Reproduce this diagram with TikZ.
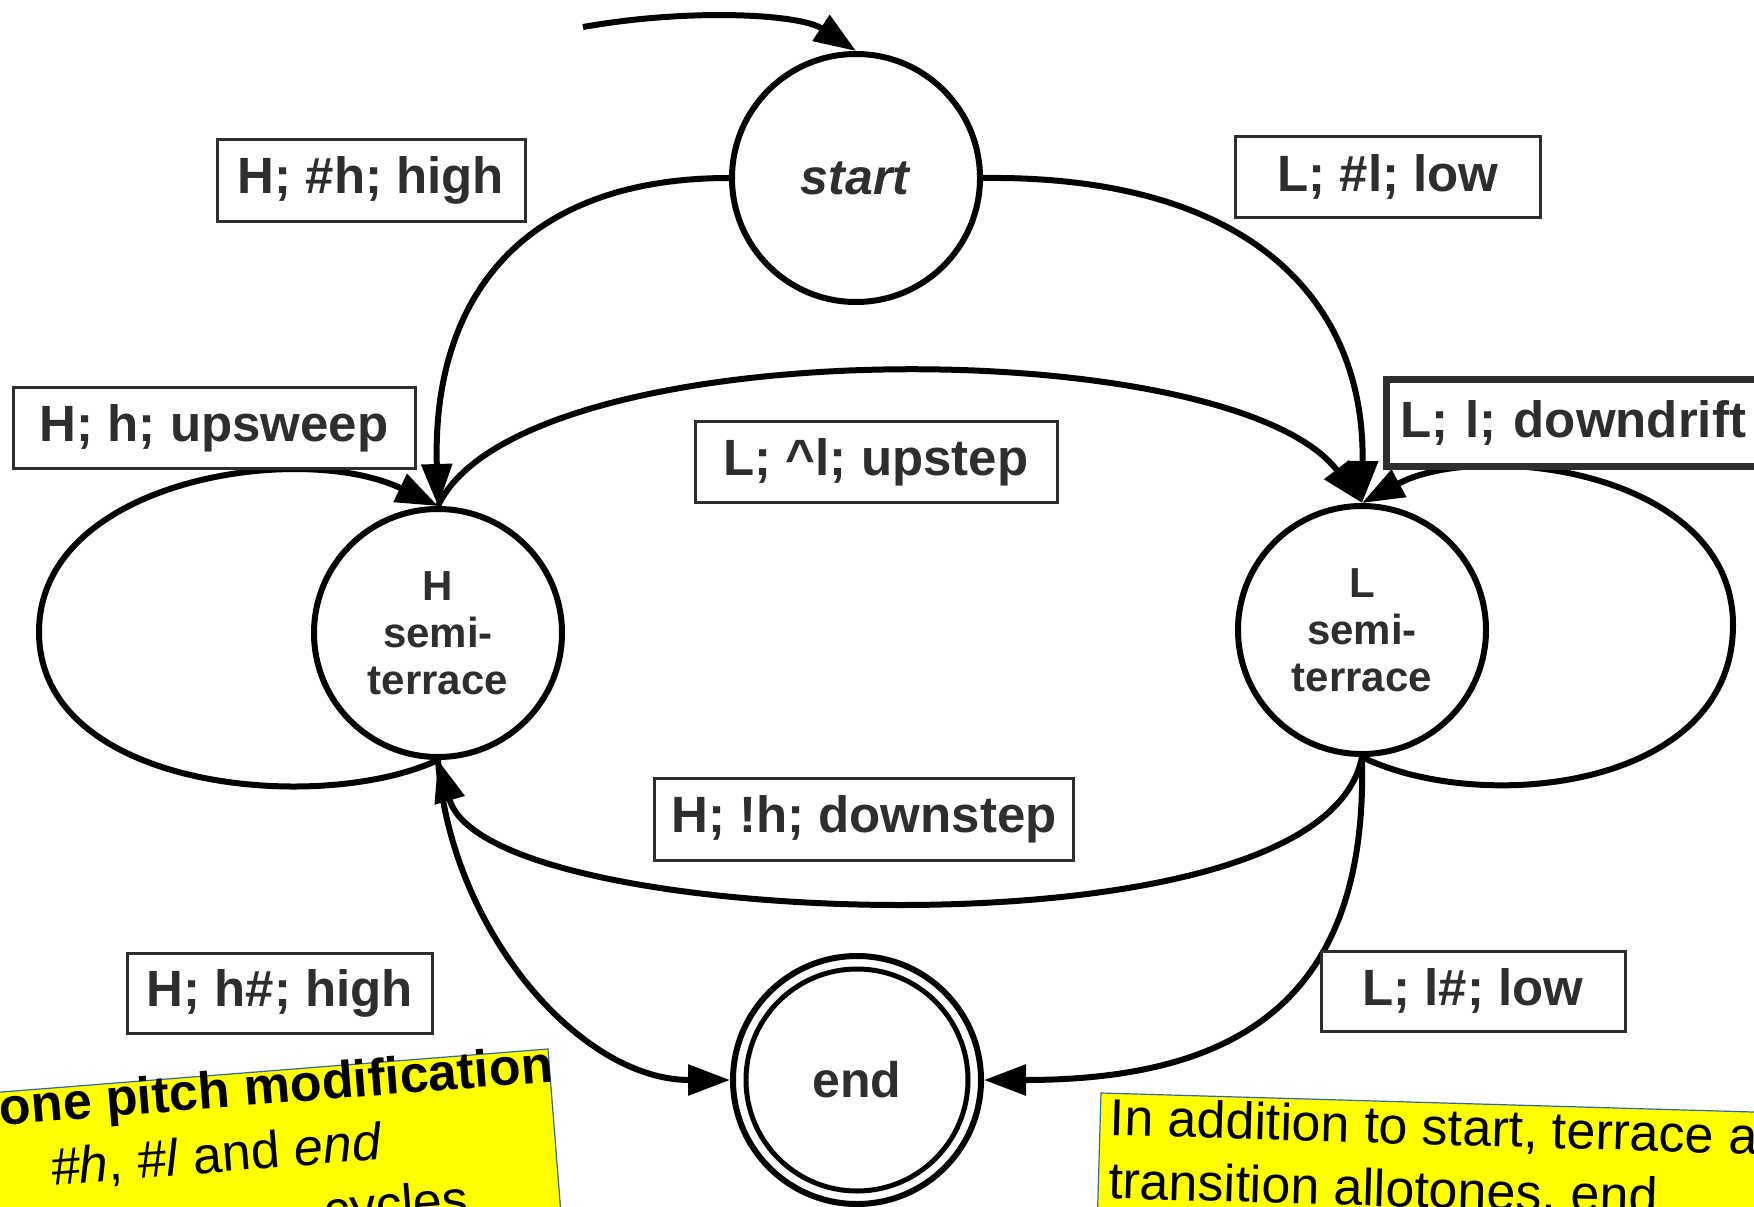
\documentclass[tikz,border=0pt]{standalone}
\usepackage{fontspec}
\setmainfont{Liberation Sans}
\usetikzlibrary{arrows.meta}
\definecolor{ink}{HTML}{2E2E2E}
\definecolor{note}{HTML}{FFFF00}
\definecolor{noteline}{HTML}{3465A4}

\begin{document}
\begin{tikzpicture}[x=1pt,y=-1pt,
  state/.style={circle, draw=black, line width=6pt, minimum size=248pt, inner sep=0pt,
    font=\fontsize{50}{56}\selectfont\bfseries, text=ink},
  semi/.style={state, font=\fontsize{42}{47}\selectfont\bfseries, align=center},
  lbl/.style={draw=ink, line width=3pt, inner sep=0pt, fill=white,
    font=\fontsize{51}{60}\selectfont\bfseries, text=ink},
  trans/.style={line width=6pt, -{Triangle[length=42pt,width=30pt]}},
  notetext/.style={inner sep=0pt, font=\fontsize{52}{62}\selectfont, text=black}]

\useasboundingbox (0,0) rectangle (1754,1207);
\clip (0,0) rectangle (1754,1207);

% states
\node[state] (start) at (856,178) {\textit{start}};
\node[semi] (H) at (438,633) {H\\semi-\\terrace};
\node[semi] (L) at (1362,630) {L\\semi-\\terrace};
\node[state] (end) at (857,1080) {end};
\node[circle, draw=black, line width=5pt, minimum size=222pt, inner sep=0pt] (endin) at (end) {};

% transitions
\coordinate (init) at (583,27);
\draw[trans] (init) .. controls (690,8) and (800,14) .. (start.north);
\draw[trans] (start.west) .. controls (520,178) and (432,300) .. (H.north);
\draw[trans] (start.east) .. controls (1250,175) and (1365,300) .. (L.north);
\draw[trans] (H.north) .. controls (520,330) and (1230,330) .. (L.north);
\draw[trans] (H.south) .. controls (320,815) and (39,790) .. (39,632)
                       .. controls (39,480) and (300,440) .. (H.north);
\draw[trans] (L.south) .. controls (1480,815) and (1733,790) .. (1733,625)
                       .. controls (1733,470) and (1480,440) .. (L.north);
\draw[trans] (L.south) .. controls (1340,870) and (1100,905) .. (900,905)
                       .. controls (700,905) and (470,870) .. (H.south);
\draw[trans] (H.south) .. controls (450,930) and (580,1080) .. (end.west);
\draw[trans] (L.south) .. controls (1368,990) and (1250,1080) .. (end.east);

% transition labels
\node[lbl, minimum width=308pt, minimum height=82pt] (lhh) at (371,180) {H; \#h; high};
\node[lbl, minimum width=305pt, minimum height=81pt] (lll) at (1388,177) {L; \#l; low};
\node[lbl, minimum width=402pt, minimum height=81pt] (lup) at (214,428) {H; h; upsweep};
\node[lbl, minimum width=362pt, minimum height=81pt] (lus) at (876,462) {L; \textasciicircum l; upstep};
\node[lbl, line width=7pt, anchor=west, inner xsep=14pt, text width=360pt, align=left,
      minimum height=87pt] (ldd) at (1383,423) {L; l; downdrift};
\node[lbl, minimum width=419pt, minimum height=82pt] (lds) at (864,819) {H; !h; downstep};
\node[lbl, minimum width=305pt, minimum height=80pt] (lhe) at (280,993) {H; h\#; high};
\node[lbl, minimum width=304pt, minimum height=80pt] (lle) at (1473,991) {L; l\#; low};

% yellow notes
\begin{scope}[shift={(548,1049)}, rotate=4.5]
  \fill[note] (-720,0) rectangle (0,300);
  \draw[noteline, line width=1.2pt] (-720,0) -- (0,0) -- (0,300);
  \node[notetext, font=\fontsize{52}{62}\selectfont\bfseries, anchor=base, rotate=4.5] (nl1) at (-332,33) {Allotone pitch modification};
  \node[notetext, anchor=base, rotate=4.5] (nl2) at (-339,97) {\textit{\#h}, \textit{\#l} and \textit{end}};
  \node[notetext, anchor=base east, rotate=4.5] (nl3) at (-91,161) {cycles};
\end{scope}
\begin{scope}[shift={(1101,1093)}, rotate=-1.67]
  \fill[note] (0,0) rectangle (720,200);
  \draw[noteline, line width=1.2pt] (0,200) -- (0,0) -- (720,0);
  \node[notetext, anchor=base west, rotate=-1.67] (nr1) at (10,42) {In addition to start, terrace and};
  \node[notetext, anchor=base west, rotate=-1.67] (nr2) at (10,105) {transition allotones, end};
\end{scope}
\end{tikzpicture}
\end{document}
